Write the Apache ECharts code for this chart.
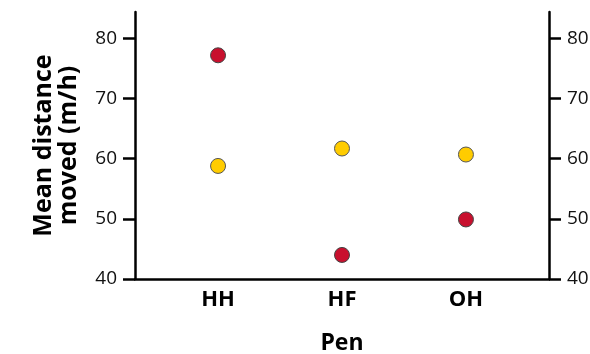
<!DOCTYPE html>
<html><head><meta charset="utf-8">
<script src="https://cdn.jsdelivr.net/npm/echarts@6/dist/echarts.min.js"></script>
<style>html,body{margin:0;padding:0;background:#fff}#c{width:590px;height:354px}</style>
</head><body><div id="c"></div>
<script>
const categories = ['HH', 'HF', 'OH'];
const redValues = [77.2, 44.0, 49.9];
const yellowValues = [58.8, 61.7, 60.7];
const yTicks = [40, 50, 60, 70, 80];

const font = '"Open Sans", "Noto Sans", sans-serif';
const chart = echarts.init(document.getElementById('c'));
const yAxisCommon = {
  type: 'value', min: 40, max: 84.4, interval: 10,
  axisLine: {show: true, onZero: false, lineStyle: {color: '#000', width: 2.5}},
  axisTick: {show: true, length: 12, lineStyle: {color: '#000', width: 2.5}, customValues: yTicks},
  axisLabel: {color: '#111', fontSize: 19, fontFamily: font, margin: 18, customValues: yTicks},
  splitLine: {show: false}
};
chart.setOption({
  animation: false,
  grid: {left: 135, right: 41, top: 12, bottom: 75, containLabel: false, outerBoundsMode: 'none'},
  xAxis: {
    type: 'value', min: -0.67, max: 2.67,
    axisLine: {show: true, onZero: false, lineStyle: {color: '#000', width: 2.5}},
    axisTick: {show: false},
    splitLine: {show: false},
    axisLabel: {
      customValues: [0, 1, 2], color: '#000', fontSize: 22, fontWeight: 'bold', fontFamily: font, margin: 10,
      formatter: v => categories[Math.round(v)]
    },
    name: 'Pen', nameLocation: 'middle', nameGap: 53,
    nameTextStyle: {color: '#000', fontSize: 23, fontWeight: 'bold', fontFamily: font}
  },
  yAxis: [
    Object.assign({}, yAxisCommon, {
      position: 'left',
      name: 'Mean distance\nmoved (m/h)', nameLocation: 'middle', nameGap: 54, nameRotate: 90,
      nameTextStyle: {color: '#000', fontSize: 25, fontWeight: 'bold', fontFamily: font, lineHeight: 25}
    }),
    Object.assign({}, yAxisCommon, {position: 'right'})
  ],
  series: [
    {
      type: 'scatter', symbolSize: 15,
      data: yellowValues.map((v, i) => [i, v]),
      itemStyle: {color: '#FFCC00', opacity: 1, borderColor: '#555', borderWidth: 1}
    },
    {
      type: 'scatter', symbolSize: 15,
      data: redValues.map((v, i) => [i, v]),
      itemStyle: {color: '#C8102E', opacity: 1, borderColor: '#444', borderWidth: 1}
    }
  ]
});
</script></body></html>
